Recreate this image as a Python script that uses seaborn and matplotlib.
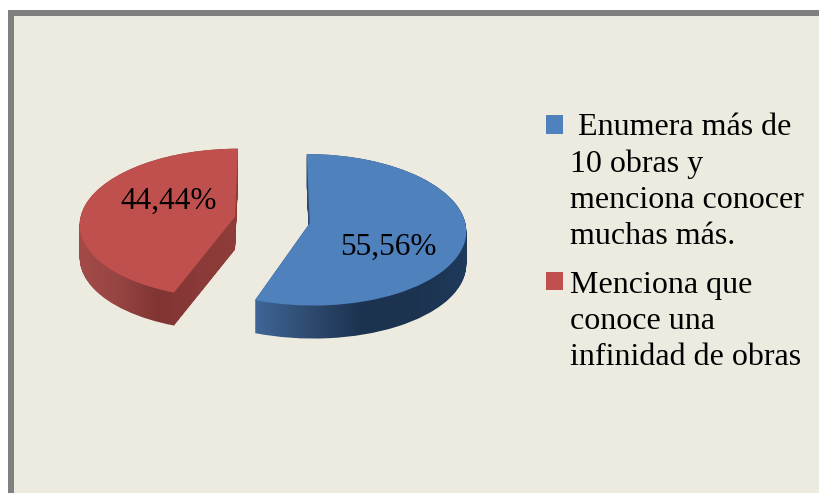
import numpy as np
import matplotlib
matplotlib.use("Agg")
import matplotlib.pyplot as plt
import seaborn as sns
from matplotlib.colors import LinearSegmentedColormap
from matplotlib.patches import Rectangle
from matplotlib.path import Path
from matplotlib.transforms import Affine2D, Transform

# Data
categories = ["Enumera más de\n10 obras y\nmenciona conocer\nmuchas más.",
              "Menciona que\nconoce una\ninfinidad de obras"]
category_prefix = [" ", ""]
values = [55.56, 44.44]
value_labels = ["55,56%", "44,44%"]

# Styles
top_colors = ["#4F81BD", "#C0504D"]
side_colors = [["#3F6797", "#2F4B70", "#1C3350", "#1C3350", "#1F3A5C"],
               ["#A34B48", "#974543", "#7F3533", "#8A3A38", "#8F3D3A"]]
side_extents = [(254, 470), (78, 238)]
BG = "#EDEBE0"
FRAME = "#808080"
W, H = 819, 493

sns.set_theme(style="white", palette=sns.color_palette(top_colors))
plt.rcParams["font.family"] = ["Liberation Serif", "DejaVu Serif"]


class Perspective(Transform):
    input_dims = output_dims = 2
    has_inverse = False

    def __init__(self, k):
        super().__init__()
        self.k = k

    def transform_non_affine(self, xy):
        xy = np.asarray(xy, float)
        w = 1 + self.k * xy[:, 1]
        return np.column_stack([xy[:, 0] / w, xy[:, 1] / w])


fig = plt.figure(figsize=(W / 100, H / 100), dpi=100, facecolor="white")
ax = fig.add_axes([0, 0, 1, 1])

wedges, _ = ax.pie(values, startangle=90, counterclock=False,
                   explode=[0.24, 0.25], colors=top_colors,
                   wedgeprops=dict(linewidth=0))
ax.set_aspect("auto")
ax.set_xlim(0, W)
ax.set_ylim(0, H)
ax.set_axis_off()

ax.add_patch(Rectangle((0, 0), W, H, fc="white", ec="none", zorder=-5))
ax.add_patch(Rectangle((8, 0), W, H - 10, fc=FRAME, ec="none", zorder=-4))
ax.add_patch(Rectangle((14, 0), W, H - 16, fc=BG, ec="none", zorder=-3))

unit_to_px = Perspective(0.088) + Affine2D().scale(155, 74.6).translate(273, H - 220)
DEPTH = 33

for wedge, cols, (x0, x1) in zip(wedges, side_colors, side_extents):
    base = unit_to_px.transform_path(wedge.get_path())
    layers = [Path(base.vertices - [0, d], base.codes) for d in range(0, DEPTH + 1)]
    clip = Path.make_compound_path(*layers)
    cmap = LinearSegmentedColormap.from_list("side", cols)
    im = ax.imshow(np.linspace(0, 1, 256)[None, :], cmap=cmap, aspect="auto",
                   extent=(x0, x1, H - 345, H - 140), zorder=1)
    im.set_clip_path(clip, ax.transData)
    wedge.set_transform(unit_to_px + ax.transData)
    wedge.set_zorder(2)
ax.set_xlim(0, W)
ax.set_ylim(0, H)
ax.set_aspect("auto")

ax.text(388, H - 247, value_labels[0], ha="center", va="center",
        fontsize=22.5, color="black", zorder=3)
ax.text(169, H - 201, value_labels[1], ha="center", va="center",
        fontsize=22.5, color="black", zorder=3)

legend = ax.legend(wedges, [p + c for p, c in zip(category_prefix, categories)],
                   loc="upper left", bbox_to_anchor=(546 / W, 1 - 113 / H),
                   bbox_transform=ax.transAxes, frameon=False, fontsize=23,
                   handlelength=0.52, handleheight=0.52, handletextpad=0.22,
                   labelspacing=0.6, borderaxespad=0, borderpad=0)
for t in legend.get_texts():
    t.set_linespacing(1.33)
    t.set_color("black")
# Handles sit on the first text line of each entry, as in the reference.
for handle, lift_px in zip(legend.legend_handles, [57.5, 40]):
    handle.set_y(handle.get_y() + lift_px * 0.72)

fig.savefig("out.png", dpi=100, facecolor="white")
